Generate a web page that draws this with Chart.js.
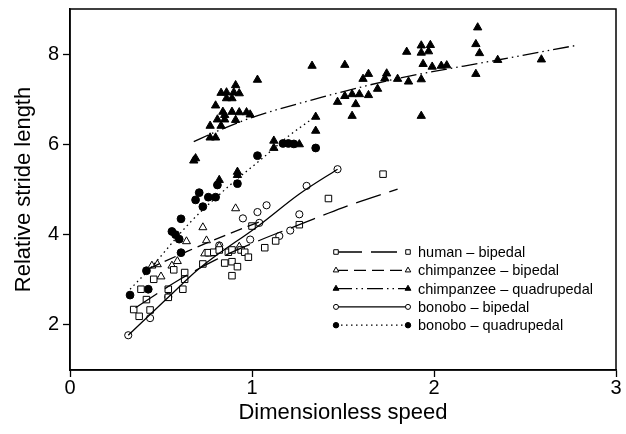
<!DOCTYPE html>
<html lang="en">
<head>
<meta charset="UTF-8" />
<title>Relative stride length vs dimensionless speed</title>
<script src="https://cdn.jsdelivr.net/npm/chart.js"></script>
<style>
  html, body { margin: 0; padding: 0; background: #fff; }
  #wrap { width: 626px; height: 434px; }
</style>
</head>
<body>
<div id="wrap"><canvas id="strideChart" width="626" height="434"></canvas></div>
<script>
// tick values
const xTicks = [0, 1, 2, 3];
const yTicks = [2, 4, 6, 8];

const seriesLabels = [
  "human \u2013 bipedal",
  "chimpanzee \u2013 bipedal",
  "chimpanzee \u2013 quadrupedal",
  "bonobo \u2013 bipedal",
  "bonobo \u2013 quadrupedal"
];

const humanX = [0.35, 0.38, 0.42, 0.44, 0.39, 0.46, 0.54, 0.54, 0.62, 0.63, 0.63, 0.57, 0.73, 0.76, 0.79, 0.82, 0.85, 0.87, 0.89, 0.89, 0.92, 0.89, 0.94, 0.96, 0.98, 1.00, 1.07, 1.13, 1.26, 1.42, 1.72];
const humanY = [2.34, 2.19, 2.56, 2.33, 2.79, 3.01, 2.79, 2.61, 2.79, 3.16, 3.01, 3.22, 3.35, 3.60, 3.61, 3.66, 3.37, 3.61, 3.66, 3.40, 3.29, 3.09, 3.66, 3.61, 3.50, 4.19, 3.71, 3.86, 4.22, 4.80, 5.34];

const chimpBipX = [0.91, 0.73, 0.75, 0.64, 0.59, 0.56, 0.50, 0.45, 0.48, 0.74, 0.77, 0.82, 0.93];
const chimpBipY = [4.58, 4.16, 3.87, 3.85, 3.41, 3.31, 3.07, 3.31, 3.34, 3.58, 3.58, 3.74, 3.73];

const chimpQuadX = [1.33, 1.03, 0.91, 0.83, 0.86, 0.90, 0.93, 0.89, 0.86, 0.80, 0.84, 0.89, 0.93, 0.97, 0.85, 0.99, 0.81, 0.85, 0.91, 0.83, 0.77, 0.77, 0.80, 0.69, 0.68, 0.82, 0.92, 0.92, 1.12, 1.12, 1.26, 1.35, 1.35,
  1.51, 1.85, 1.93, 1.98, 1.93, 1.97, 1.94, 1.99, 2.04, 2.07, 1.64, 1.61, 1.74, 1.73, 1.80, 1.86, 1.93, 1.69, 1.51, 1.55, 1.59, 1.64, 1.47, 1.57, 1.55, 1.93, 2.24, 2.23, 2.25, 2.23, 2.35, 2.59];
const chimpQuadY = [7.74, 7.43, 7.31, 7.14, 7.15, 7.15, 7.13, 7.02, 7.02, 6.86, 6.72, 6.72, 6.71, 6.71, 6.65, 6.66, 6.55, 6.55, 6.54, 6.41, 6.41, 6.15, 6.15, 5.69, 5.64, 5.21, 5.39, 5.32, 6.08, 5.92, 6.00, 6.61, 6.30,
  7.76, 8.05, 8.19, 8.20, 8.03, 8.06, 7.78, 7.72, 7.74, 7.75, 7.56, 7.45, 7.57, 7.46, 7.45, 7.39, 7.44, 7.23, 7.07, 7.11, 7.11, 7.09, 6.94, 6.89, 6.63, 6.63, 8.59, 8.22, 8.02, 7.56, 7.87, 7.88];

const bonoboBipX = [0.32, 0.44, 0.54, 0.82, 0.95, 1.03, 0.99, 1.08, 1.04, 1.15, 1.21, 1.26, 1.30, 1.47];
const bonoboBipY = [1.77, 2.15, 2.62, 3.76, 4.36, 4.50, 3.89, 4.65, 4.26, 3.97, 4.09, 4.45, 5.08, 5.45];

const bonoboQuadX = [0.33, 0.43, 0.42, 0.61, 0.56, 0.58, 0.60, 0.61, 0.69, 0.71, 0.73, 0.76, 0.80, 0.81, 0.92, 1.03, 1.17, 1.20, 1.23, 1.35];
const bonoboQuadY = [2.66, 2.79, 3.20, 3.60, 4.07, 4.00, 3.90, 4.35, 4.77, 4.93, 4.62, 4.83, 4.83, 5.10, 5.13, 5.75, 6.02, 6.02, 6.01, 5.92];

// fitted curves
const humanFitX = [0.36, 0.60, 0.80, 1.04, 1.26, 1.50, 1.80];
const humanFitY = [2.38, 3.00, 3.44, 3.87, 4.22, 4.60, 5.01];
const chimpBipFitX = [0.43, 0.65, 0.85, 1.04];
const chimpBipFitY = [3.24, 3.64, 3.98, 4.28];
const chimpQuadFitX = [0.68, 0.79, 0.99, 1.38, 1.79, 2.35, 2.79];
const chimpQuadFitY = [6.06, 6.26, 6.58, 7.04, 7.45, 7.87, 8.20];
const bonoboBipFitX = [0.32, 0.55, 0.71, 1.04, 1.26, 1.47];
const bonoboBipFitY = [1.77, 2.65, 3.25, 4.21, 4.90, 5.45];
const bonoboQuadFitX = [0.33, 0.44, 0.66, 0.88, 1.06, 1.19, 1.36];
const bonoboQuadFitY = [2.79, 3.25, 4.27, 5.10, 5.70, 6.15, 6.65];

const pts = (xs, ys) => xs.map((x, i) => ({ x: x, y: ys[i] }));

const FONT = "'Liberation Sans', Arial, Helvetica, sans-serif";

// marker + line style for each series (same order as seriesLabels)
const styles = [
  { pointStyle: "rect", radius: 4.6, fill: "#fff", dash: [26, 9] },
  { pointStyle: "triangle", radius: 4.6, fill: "#fff", dash: [12, 6] },
  { pointStyle: "triangle", radius: 4.8, fill: "#000", dash: [16, 4, 1.5, 4, 1.5, 4] },
  { pointStyle: "circle", radius: 3.6, fill: "#fff", dash: [] },
  { pointStyle: "circle", radius: 3.9, fill: "#000", dash: [1.5, 3.5] }
];

const pointSets = [
  pts(humanX, humanY), pts(chimpBipX, chimpBipY), pts(chimpQuadX, chimpQuadY),
  pts(bonoboBipX, bonoboBipY), pts(bonoboQuadX, bonoboQuadY)
];
const fitSets = [
  pts(humanFitX, humanFitY), pts(chimpBipFitX, chimpBipFitY), pts(chimpQuadFitX, chimpQuadFitY),
  pts(bonoboBipFitX, bonoboBipFitY), pts(bonoboQuadFitX, bonoboQuadFitY)
];

const datasets = [];
fitSets.forEach((d, i) => {
  datasets.push({
    label: seriesLabels[i] + " fit",
    data: d,
    showLine: true,
    pointRadius: 0,
    borderColor: "#000",
    borderWidth: 1.3,
    borderDash: styles[i].dash,
    cubicInterpolationMode: "monotone",
    fill: false
  });
});
pointSets.forEach((d, i) => {
  datasets.push({
    label: seriesLabels[i],
    data: d,
    pointStyle: styles[i].pointStyle,
    pointRadius: styles[i].radius,
    pointBackgroundColor: styles[i].fill,
    pointBorderColor: "#000",
    pointBorderWidth: 1,
    showLine: false
  });
});

// box around the plot
const framePlugin = {
  id: "frame",
  afterDraw(chart) {
    const { ctx, chartArea: a } = chart;
    ctx.save();
    ctx.strokeStyle = "#000";
    ctx.lineWidth = 1.5;
    ctx.strokeRect(a.left, a.top, a.right - a.left, a.bottom - a.top);
    ctx.restore();
  }
};

// legend drawn inside the plot: marker - line - marker, then text
const legendPlugin = {
  id: "innerLegend",
  afterDraw(chart) {
    const { ctx, chartArea: a } = chart;
    const x1 = a.left + 266, x2 = a.left + 338, tx = a.left + 348;
    const y0 = a.top + 243, step = 18.3;
    ctx.save();
    ctx.font = "14.5px " + FONT;
    ctx.textBaseline = "middle";
    seriesLabels.forEach((label, i) => {
      const s = styles[i];
      const y = y0 + i * step;
      ctx.strokeStyle = "#000";
      ctx.lineWidth = 1.3;
      ctx.setLineDash(s.dash);
      ctx.beginPath();
      ctx.moveTo(x1, y);
      ctx.lineTo(x2, y);
      ctx.stroke();
      ctx.setLineDash([]);
      ctx.lineWidth = 1;
      ctx.fillStyle = s.fill;
      [x1, x2].forEach(px => {
        Chart.helpers.drawPoint(ctx, { pointStyle: s.pointStyle, radius: s.radius * 0.7, rotation: 0, borderWidth: 1 }, px, y);
      });
      ctx.fillStyle = "#000";
      ctx.fillText(label, tx, y + 1);
    });
    ctx.restore();
  }
};

new Chart(document.getElementById("strideChart").getContext("2d"), {
  type: "scatter",
  data: { datasets: datasets },
  options: {
    responsive: false,
    animation: false,
    layout: { padding: { top: 9, right: 10, left: 0, bottom: 0 } },
    plugins: {
      legend: { display: false },
      tooltip: { enabled: false }
    },
    scales: {
      x: {
        type: "linear",
        min: 0,
        max: 3,
        afterBuildTicks: s => { s.ticks = xTicks.map(v => ({ value: v })); },
        afterFit: s => { s.height = 64; },
        grid: { display: true, drawOnChartArea: false, drawTicks: true, tickLength: 7, tickColor: "#000", tickWidth: 1.3 },
        border: { display: true, color: "#000", width: 1.5 },
        ticks: { color: "#000", font: { family: FONT, size: 20 }, padding: -1, maxRotation: 0 },
        title: { display: true, text: "Dimensionless speed", color: "#000", font: { family: FONT, size: 22 }, padding: { top: 0, bottom: 8 } }
      },
      y: {
        type: "linear",
        min: 1,
        max: 9,
        afterBuildTicks: s => { s.ticks = yTicks.map(v => ({ value: v })); },
        afterFit: s => { s.width = 70; s.paddingTop = 0; s.paddingBottom = 0; },
        grid: { display: true, drawOnChartArea: false, drawTicks: true, tickLength: 7, tickColor: "#000", tickWidth: 1.3 },
        border: { display: true, color: "#000", width: 1.5 },
        ticks: { color: "#000", font: { family: FONT, size: 20 }, padding: 4 },
        title: { display: true, text: "Relative stride length", color: "#000", font: { family: FONT, size: 22 }, padding: { top: 11, bottom: 0 } }
      }
    }
  },
  plugins: [framePlugin, legendPlugin]
});
</script>
</body>
</html>
